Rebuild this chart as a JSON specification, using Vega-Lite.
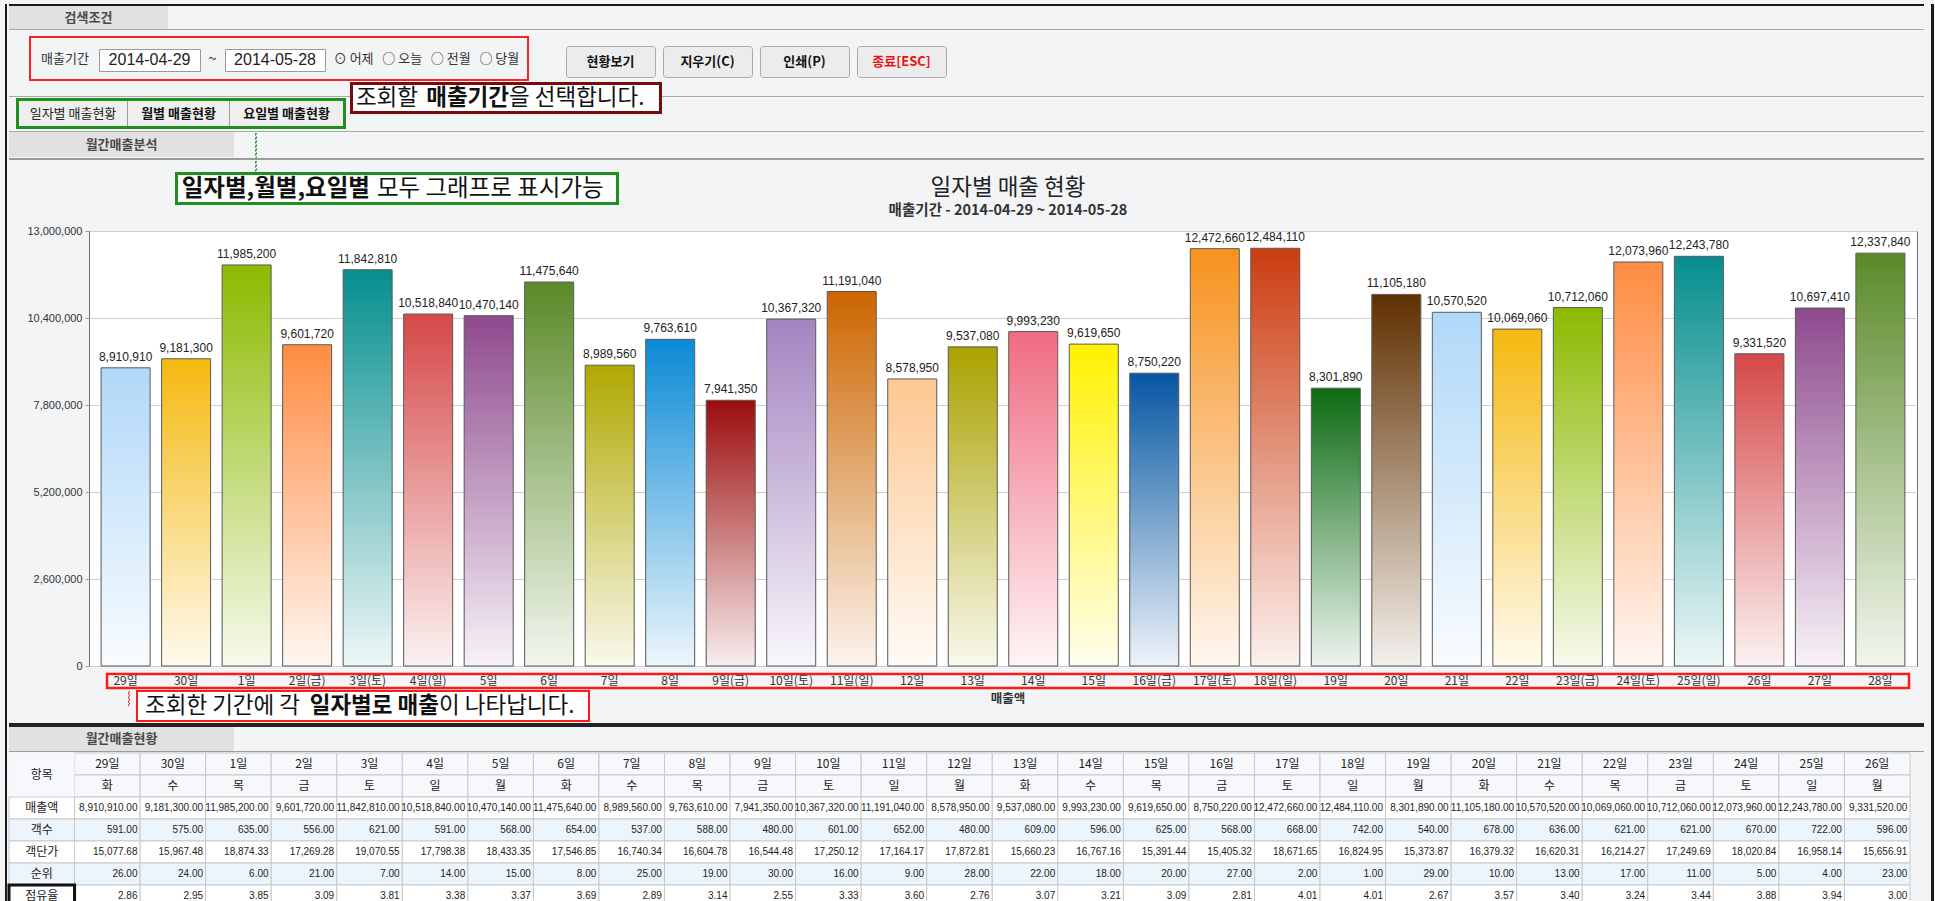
{
"$schema": "https://vega.github.io/schema/vega-lite/v6.json",
"padding": {"left": 5, "top": 4, "right": 5, "bottom": 0},
"background": "#f2f4f6",
"config": {"font": "Noto Sans CJK KR", "view": {"stroke": null}, "text": {"font": "Noto Sans CJK KR"}},
"datasets": {
"days": [
{"day": "29일", "axis": "29일", "wd": "화", "sales": 8910910, "cust": 591, "avg": 15077.68, "rank": 26, "share": 2.86},
{"day": "30일", "axis": "30일", "wd": "수", "sales": 9181300, "cust": 575, "avg": 15967.48, "rank": 24, "share": 2.95},
{"day": "1일", "axis": "1일", "wd": "목", "sales": 11985200, "cust": 635, "avg": 18874.33, "rank": 6, "share": 3.85},
{"day": "2일", "axis": "2일(금)", "wd": "금", "sales": 9601720, "cust": 556, "avg": 17269.28, "rank": 21, "share": 3.09},
{"day": "3일", "axis": "3일(토)", "wd": "토", "sales": 11842810, "cust": 621, "avg": 19070.55, "rank": 7, "share": 3.81},
{"day": "4일", "axis": "4일(일)", "wd": "일", "sales": 10518840, "cust": 591, "avg": 17798.38, "rank": 14, "share": 3.38},
{"day": "5일", "axis": "5일", "wd": "월", "sales": 10470140, "cust": 568, "avg": 18433.35, "rank": 15, "share": 3.37},
{"day": "6일", "axis": "6일", "wd": "화", "sales": 11475640, "cust": 654, "avg": 17546.85, "rank": 8, "share": 3.69},
{"day": "7일", "axis": "7일", "wd": "수", "sales": 8989560, "cust": 537, "avg": 16740.34, "rank": 25, "share": 2.89},
{"day": "8일", "axis": "8일", "wd": "목", "sales": 9763610, "cust": 588, "avg": 16604.78, "rank": 19, "share": 3.14},
{"day": "9일", "axis": "9일(금)", "wd": "금", "sales": 7941350, "cust": 480, "avg": 16544.48, "rank": 30, "share": 2.55},
{"day": "10일", "axis": "10일(토)", "wd": "토", "sales": 10367320, "cust": 601, "avg": 17250.12, "rank": 16, "share": 3.33},
{"day": "11일", "axis": "11일(일)", "wd": "일", "sales": 11191040, "cust": 652, "avg": 17164.17, "rank": 9, "share": 3.60},
{"day": "12일", "axis": "12일", "wd": "월", "sales": 8578950, "cust": 480, "avg": 17872.81, "rank": 28, "share": 2.76},
{"day": "13일", "axis": "13일", "wd": "화", "sales": 9537080, "cust": 609, "avg": 15660.23, "rank": 22, "share": 3.07},
{"day": "14일", "axis": "14일", "wd": "수", "sales": 9993230, "cust": 596, "avg": 16767.16, "rank": 18, "share": 3.21},
{"day": "15일", "axis": "15일", "wd": "목", "sales": 9619650, "cust": 625, "avg": 15391.44, "rank": 20, "share": 3.09},
{"day": "16일", "axis": "16일(금)", "wd": "금", "sales": 8750220, "cust": 568, "avg": 15405.32, "rank": 27, "share": 2.81},
{"day": "17일", "axis": "17일(토)", "wd": "토", "sales": 12472660, "cust": 668, "avg": 18671.65, "rank": 2, "share": 4.01},
{"day": "18일", "axis": "18일(일)", "wd": "일", "sales": 12484110, "cust": 742, "avg": 16824.95, "rank": 1, "share": 4.01},
{"day": "19일", "axis": "19일", "wd": "월", "sales": 8301890, "cust": 540, "avg": 15373.87, "rank": 29, "share": 2.67},
{"day": "20일", "axis": "20일", "wd": "화", "sales": 11105180, "cust": 678, "avg": 16379.32, "rank": 10, "share": 3.57},
{"day": "21일", "axis": "21일", "wd": "수", "sales": 10570520, "cust": 636, "avg": 16620.31, "rank": 13, "share": 3.40},
{"day": "22일", "axis": "22일", "wd": "목", "sales": 10069060, "cust": 621, "avg": 16214.27, "rank": 17, "share": 3.24},
{"day": "23일", "axis": "23일(금)", "wd": "금", "sales": 10712060, "cust": 621, "avg": 17249.69, "rank": 11, "share": 3.44},
{"day": "24일", "axis": "24일(토)", "wd": "토", "sales": 12073960, "cust": 670, "avg": 18020.84, "rank": 5, "share": 3.88},
{"day": "25일", "axis": "25일(일)", "wd": "일", "sales": 12243780, "cust": 722, "avg": 16958.14, "rank": 4, "share": 3.94},
{"day": "26일", "axis": "26일", "wd": "월", "sales": 9331520, "cust": 596, "avg": 15656.91, "rank": 23, "share": 3.00},
{"day": "27일", "axis": "27일", "wd": "화", "sales": 10697410},
{"day": "28일", "axis": "28일", "wd": "수", "sales": 12337840}
],
"items": [
{"key": "day", "name": "항목"}, {"key": "wd", "name": ""}, {"key": "sales", "name": "매출액"}, {"key": "cust", "name": "객수"}, {"key": "avg", "name": "객단가"}, {"key": "rank", "name": "순위"}, {"key": "share", "name": "점유율"}
]
},
"spacing": 0,
"bounds": "full",
"hconcat": [
{"width": 2, "height": 898, "view": {"fill": "#1a1a1a"}, "data": {"values": []}, "mark": "text", "encoding": {"text": {"value": ""}}},
{"spacing": 0,
"bounds": "full",
"vconcat": [
{"width": 1915, "height": 2, "view": {"fill": "#1a1a1a"}, "data": {"values": []}, "mark": "text", "encoding": {"text": {"value": ""}}},
{"hconcat": [
  {"width": 159, "height": 23, "view": {"fill": "#e1e1e1"}, "data": {"values": [{"t": "검색조건"}]}, "mark": {"type": "text", "fontSize": 13, "fontWeight": "bold", "color": "#4a4a4a"}, "encoding": {"text": {"field": "t", "type": "nominal"}}},
  {"width": 1756, "height": 23, "data": {"values": []}, "mark": "text", "encoding": {"text": {"value": ""}}}
], "spacing": 0, "bounds": "flush"},
{"width": 1915, "height": 1, "view": {"fill": "#a9a9a9"}, "data": {"values": []}, "mark": "text", "encoding": {"text": {"value": ""}}},
{"hconcat": [
  {"width": 20, "height": 51, "data": {"values": []}, "mark": "text", "encoding": {"text": {"value": ""}}},
  {"vconcat": [
    {"width": 500, "height": 6, "data": {"values": []}, "mark": "text", "encoding": {"text": {"value": ""}}},
    {"vconcat": [
      {"width": 500, "height": 2, "view": {"fill": "#ff2020"}, "data": {"values": []}, "mark": "text", "encoding": {"text": {"value": ""}}},
      {"hconcat": [
        {"width": 2, "height": 41, "view": {"fill": "#ff2020"}, "data": {"values": []}, "mark": "text", "encoding": {"text": {"value": ""}}},
        {"width": 4, "height": 41, "data": {"values": []}, "mark": "text", "encoding": {"text": {"value": ""}}},
        {"width": 60, "height": 41, "data": {"values": [{"t": "매출기간"}]}, "mark": {"type": "text", "fontSize": 13, "color": "#333333"}, "encoding": {"text": {"field": "t", "type": "nominal"}}},
        {"width": 3, "height": 41, "data": {"values": []}, "mark": "text", "encoding": {"text": {"value": ""}}},
        {"vconcat": [
          {"width": 101, "height": 11, "data": {"values": []}, "mark": "text", "encoding": {"text": {"value": ""}}},
          {"width": 101, "height": 22, "view": {"fill": "#ffffff", "stroke": "#9a9a9a"}, "data": {"values": [{"t": "2014-04-29"}]}, "mark": {"type": "text", "font": "Liberation Sans", "fontSize": 16, "color": "#222222"}, "encoding": {"text": {"field": "t", "type": "nominal"}}},
          {"width": 101, "height": 8, "data": {"values": []}, "mark": "text", "encoding": {"text": {"value": ""}}}
        ], "spacing": 0, "bounds": "flush"},
        {"width": 23, "height": 41, "data": {"values": [{"t": "~"}]}, "mark": {"type": "text", "fontSize": 15, "color": "#333333"}, "encoding": {"text": {"field": "t", "type": "nominal"}}},
        {"vconcat": [
          {"width": 100, "height": 11, "data": {"values": []}, "mark": "text", "encoding": {"text": {"value": ""}}},
          {"width": 100, "height": 22, "view": {"fill": "#ffffff", "stroke": "#9a9a9a"}, "data": {"values": [{"t": "2014-05-28"}]}, "mark": {"type": "text", "font": "Liberation Sans", "fontSize": 16, "color": "#222222"}, "encoding": {"text": {"field": "t", "type": "nominal"}}},
          {"width": 100, "height": 8, "data": {"values": []}, "mark": "text", "encoding": {"text": {"value": ""}}}
        ], "spacing": 0, "bounds": "flush"},
        {"width": 201, "height": 41, "data": {"values": [{"t": "⊙ 어제\u00a0\u00a0 ○ 오늘\u00a0\u00a0 ○ 전월\u00a0\u00a0 ○ 당월"}]}, "mark": {"type": "text", "fontSize": 13, "color": "#333333"}, "encoding": {"text": {"field": "t", "type": "nominal"}}},
        {"width": 2, "height": 41, "view": {"fill": "#ff2020"}, "data": {"values": []}, "mark": "text", "encoding": {"text": {"value": ""}}}
      ], "spacing": 0, "bounds": "full"},
      {"width": 500, "height": 2, "view": {"fill": "#ff2020"}, "data": {"values": []}, "mark": "text", "encoding": {"text": {"value": ""}}}
    ], "spacing": 0, "bounds": "full"}
  ], "spacing": 0, "bounds": "full"},
  {"width": 36, "height": 51, "data": {"values": []}, "mark": "text", "encoding": {"text": {"value": ""}}},
  {"vconcat": [
    {"width": 380, "height": 15, "data": {"values": []}, "mark": "text", "encoding": {"text": {"value": ""}}},
    {"hconcat": [
      {"width": 89, "height": 31, "view": {"fill": "#ececec", "stroke": "#a9a9a9", "cornerRadius": 3}, "data": {"values": [{"t": "현황보기"}]}, "mark": {"type": "text", "fontSize": 13, "fontWeight": "bold", "color": "#111111"}, "encoding": {"text": {"field": "t", "type": "nominal"}}},
      {"width": 89, "height": 31, "view": {"fill": "#ececec", "stroke": "#a9a9a9", "cornerRadius": 3}, "data": {"values": [{"t": "지우기(C)"}]}, "mark": {"type": "text", "fontSize": 13, "fontWeight": "bold", "color": "#111111"}, "encoding": {"text": {"field": "t", "type": "nominal"}}},
      {"width": 89, "height": 31, "view": {"fill": "#ececec", "stroke": "#a9a9a9", "cornerRadius": 3}, "data": {"values": [{"t": "인쇄(P)"}]}, "mark": {"type": "text", "fontSize": 13, "fontWeight": "bold", "color": "#111111"}, "encoding": {"text": {"field": "t", "type": "nominal"}}},
      {"width": 89, "height": 31, "view": {"fill": "#ececec", "stroke": "#a9a9a9", "cornerRadius": 3}, "data": {"values": [{"t": "종료[ESC]"}]}, "mark": {"type": "text", "fontSize": 13, "fontWeight": "bold", "color": "#ee1111"}, "encoding": {"text": {"field": "t", "type": "nominal"}}}
    ], "spacing": 8, "bounds": "flush"},
    {"width": 380, "height": 4, "data": {"values": []}, "mark": "text", "encoding": {"text": {"value": ""}}}
  ], "spacing": 0, "bounds": "full"},
  {"width": 975, "height": 51, "data": {"values": []}, "mark": "text", "encoding": {"text": {"value": ""}}}
], "spacing": 0, "bounds": "full"},
{"hconcat": [
  {"vconcat": [
    {"width": 341, "height": 14, "data": {"values": []}, "mark": "text", "encoding": {"text": {"value": ""}}},
    {"width": 341, "height": 1, "view": {"fill": "#a9a9a9"}, "data": {"values": []}, "mark": "text", "encoding": {"text": {"value": ""}}},
    {"width": 341, "height": 1, "data": {"values": []}, "mark": "text", "encoding": {"text": {"value": ""}}},
    {"hconcat": [
      {"width": 7, "height": 31, "data": {"values": []}, "mark": "text", "encoding": {"text": {"value": ""}}},
      {"vconcat": [
        {"width": 330, "height": 3, "view": {"fill": "#1f8f1f"}, "data": {"values": []}, "mark": "text", "encoding": {"text": {"value": ""}}},
        {"hconcat": [
          {"width": 3, "height": 25, "view": {"fill": "#1f8f1f"}, "data": {"values": []}, "mark": "text", "encoding": {"text": {"value": ""}}},
          {"width": 108, "height": 25, "view": {"fill": "#efefef"}, "data": {"values": [{"t": "일자별 매출현황"}]}, "mark": {"type": "text", "fontSize": 13, "color": "#222222"}, "encoding": {"text": {"field": "t", "type": "nominal"}}},
          {"width": 1, "height": 25, "view": {"fill": "#9d9d9d"}, "data": {"values": []}, "mark": "text", "encoding": {"text": {"value": ""}}},
          {"width": 101, "height": 25, "view": {"fill": "#efefef"}, "data": {"values": [{"t": "월별 매출현황"}]}, "mark": {"type": "text", "fontSize": 13, "fontWeight": "bold", "color": "#111111"}, "encoding": {"text": {"field": "t", "type": "nominal"}}},
          {"width": 1, "height": 25, "view": {"fill": "#9d9d9d"}, "data": {"values": []}, "mark": "text", "encoding": {"text": {"value": ""}}},
          {"width": 113, "height": 25, "view": {"fill": "#efefef"}, "data": {"values": [{"t": "요일별 매출현황"}]}, "mark": {"type": "text", "fontSize": 13, "fontWeight": "bold", "color": "#111111"}, "encoding": {"text": {"field": "t", "type": "nominal"}}},
          {"width": 3, "height": 25, "view": {"fill": "#1f8f1f"}, "data": {"values": []}, "mark": "text", "encoding": {"text": {"value": ""}}}
        ], "spacing": 0, "bounds": "flush"},
        {"width": 330, "height": 3, "view": {"fill": "#1f8f1f"}, "data": {"values": []}, "mark": "text", "encoding": {"text": {"value": ""}}}
      ], "spacing": 0, "bounds": "full"}
    ], "spacing": 0, "bounds": "full"},
    {"width": 341, "height": 2, "data": {"values": []}, "mark": "text", "encoding": {"text": {"value": ""}}}
  ], "spacing": 0, "bounds": "full"},
  {"vconcat": [
    {"vconcat": [
      {"width": 312, "height": 3, "view": {"fill": "#7a0b0b"}, "data": {"values": []}, "mark": "text", "encoding": {"text": {"value": ""}}},
      {"hconcat": [
        {"width": 3, "height": 26, "view": {"fill": "#7a0b0b"}, "data": {"values": []}, "mark": "text", "encoding": {"text": {"value": ""}}},
        {"width": 6, "height": 26, "view": {"fill": "#ffffff"}, "data": {"values": []}, "mark": "text", "encoding": {"text": {"value": ""}}},
        {"width": 300, "height": 26, "view": {"fill": "#ffffff"}, "data": {"values": [{"a": "조회할", "b": "매출기간", "c": "을 선택합니다."}]},
         "layer": [
           {"mark": {"type": "text", "align": "right", "dx": -91, "fontSize": 22.5, "color": "#111111"}, "encoding": {"text": {"field": "a", "type": "nominal"}}},
           {"mark": {"type": "text", "align": "right", "fontSize": 22.5, "fontWeight": "bold", "color": "#111111"}, "encoding": {"text": {"field": "b", "type": "nominal"}}},
           {"mark": {"type": "text", "align": "left", "fontSize": 22.5, "color": "#111111"}, "encoding": {"text": {"field": "c", "type": "nominal"}}}
         ]},
        {"width": 3, "height": 26, "view": {"fill": "#7a0b0b"}, "data": {"values": []}, "mark": "text", "encoding": {"text": {"value": ""}}}
      ], "spacing": 0, "bounds": "flush"},
      {"width": 312, "height": 3, "view": {"fill": "#7a0b0b"}, "data": {"values": []}, "mark": "text", "encoding": {"text": {"value": ""}}}
    ], "spacing": 0, "bounds": "full"},
    {"width": 312, "height": 17, "data": {"values": []}, "mark": "text", "encoding": {"text": {"value": ""}}}
  ], "spacing": 0, "bounds": "full"},
  {"vconcat": [
    {"width": 1262, "height": 14, "data": {"values": []}, "mark": "text", "encoding": {"text": {"value": ""}}},
    {"width": 1262, "height": 1, "view": {"fill": "#a9a9a9"}, "data": {"values": []}, "mark": "text", "encoding": {"text": {"value": ""}}},
    {"width": 1262, "height": 34, "data": {"values": []}, "mark": "text", "encoding": {"text": {"value": ""}}}
  ], "spacing": 0, "bounds": "flush"}
], "spacing": 0, "bounds": "full"},
{"width": 1915, "height": 1, "view": {"fill": "#a9a9a9"}, "data": {"values": []}, "mark": "text", "encoding": {"text": {"value": ""}}},
{"hconcat": [
  {"width": 225, "height": 25, "view": {"fill": "#e1e1e1"}, "data": {"values": [{"t": "월간매출분석"}]}, "mark": {"type": "text", "fontSize": 13, "fontWeight": "bold", "color": "#4a4a4a"}, "encoding": {"text": {"field": "t", "type": "nominal"}}},
  {"width": 20, "height": 25, "data": {"values": []}, "mark": "text", "encoding": {"text": {"value": ""}}},
  {"vconcat": [
    {"width": 1, "height": 0.5, "data": {"values": []}, "mark": "text", "encoding": {"text": {"value": ""}}},
    {"width": 1, "height": 24, "view": {"stroke": "#1f8f1f", "strokeDash": [2, 2], "strokeWidth": 1}, "data": {"values": []}, "mark": "text", "encoding": {"text": {"value": ""}}},
    {"width": 1, "height": 0.5, "data": {"values": []}, "mark": "text", "encoding": {"text": {"value": ""}}}
  ], "spacing": 0, "bounds": "flush"},
  {"width": 1669, "height": 25, "data": {"values": []}, "mark": "text", "encoding": {"text": {"value": ""}}}
], "spacing": 0, "bounds": "full"},
{"width": 1915, "height": 2, "view": {"fill": "#9c9c9c"}, "data": {"values": []}, "mark": "text", "encoding": {"text": {"value": ""}}},
{"vconcat": [
  {"hconcat": [
    {"width": 166, "height": 63, "data": {"values": []}, "mark": "text", "encoding": {"text": {"value": ""}}},
    {"vconcat": [
      {"hconcat": [
        {"width": 79, "height": 11, "data": {"values": []}, "mark": "text", "encoding": {"text": {"value": ""}}},
        {"vconcat": [
          {"width": 1, "height": 0.5, "data": {"values": []}, "mark": "text", "encoding": {"text": {"value": ""}}},
          {"width": 1, "height": 10, "view": {"stroke": "#1f8f1f", "strokeDash": [2, 2], "strokeWidth": 1}, "data": {"values": []}, "mark": "text", "encoding": {"text": {"value": ""}}},
          {"width": 1, "height": 0.5, "data": {"values": []}, "mark": "text", "encoding": {"text": {"value": ""}}}
        ], "spacing": 0, "bounds": "flush"},
        {"width": 364, "height": 11, "data": {"values": []}, "mark": "text", "encoding": {"text": {"value": ""}}}
      ], "spacing": 0, "bounds": "full"},
      {"vconcat": [
        {"width": 444, "height": 3, "view": {"fill": "#1f8f1f"}, "data": {"values": []}, "mark": "text", "encoding": {"text": {"value": ""}}},
        {"hconcat": [
          {"width": 3, "height": 27, "view": {"fill": "#1f8f1f"}, "data": {"values": []}, "mark": "text", "encoding": {"text": {"value": ""}}},
          {"width": 438, "height": 27, "view": {"fill": "#ffffff"}, "data": {"values": [{"a": "일자별,월별,요일별", "c": "모두 그래프로 표시가능"}]},
           "layer": [
             {"mark": {"type": "text", "align": "right", "dx": -27, "fontSize": 23.5, "fontWeight": "bold", "color": "#111111"}, "encoding": {"text": {"field": "a", "type": "nominal"}}},
             {"mark": {"type": "text", "align": "left", "dx": -20, "fontSize": 23.5, "color": "#111111"}, "encoding": {"text": {"field": "c", "type": "nominal"}}}
           ]},
          {"width": 3, "height": 27, "view": {"fill": "#1f8f1f"}, "data": {"values": []}, "mark": "text", "encoding": {"text": {"value": ""}}}
        ], "spacing": 0, "bounds": "flush"},
        {"width": 444, "height": 3, "view": {"fill": "#1f8f1f"}, "data": {"values": []}, "mark": "text", "encoding": {"text": {"value": ""}}}
      ], "spacing": 0, "bounds": "full"},
      {"width": 444, "height": 19, "data": {"values": []}, "mark": "text", "encoding": {"text": {"value": ""}}}
    ], "spacing": 0, "bounds": "full"},
    {"width": 187, "height": 63, "data": {"values": []}, "mark": "text", "encoding": {"text": {"value": ""}}},
    {"vconcat": [
      {"width": 400, "height": 15, "data": {"values": []}, "mark": "text", "encoding": {"text": {"value": ""}}},
      {"width": 400, "height": 26, "data": {"values": [{"t": "일자별 매출 현황"}]}, "mark": {"type": "text", "fontSize": 22.5, "color": "#222222"}, "encoding": {"text": {"field": "t", "type": "nominal"}}},
      {"width": 400, "height": 1.5, "data": {"values": []}, "mark": "text", "encoding": {"text": {"value": ""}}},
      {"width": 400, "height": 16, "data": {"values": [{"t": "매출기간 - 2014-04-29 ~ 2014-05-28"}]}, "mark": {"type": "text", "fontSize": 14.5, "fontWeight": "bold", "color": "#333333"}, "encoding": {"text": {"field": "t", "type": "nominal"}}},
      {"width": 400, "height": 4.5, "data": {"values": []}, "mark": "text", "encoding": {"text": {"value": ""}}}
    ], "spacing": 0, "bounds": "flush"},
    {"width": 718, "height": 63, "data": {"values": []}, "mark": "text", "encoding": {"text": {"value": ""}}}
  ], "spacing": 0, "bounds": "full"},
  {"hconcat": [
    {"width": 80, "height": 435, "data": {"values": []}, "mark": "text", "encoding": {"text": {"value": ""}}},
    {
      "width": 1828, "height": 435,
      "view": {"fill": "#ffffff", "stroke": "#6e6e6e", "strokeWidth": 1},
      "data": {"name": "days"},
      "encoding": {
        "x": {"field": "axis", "type": "nominal", "sort": null, "scale": {"paddingInner": 0.19, "paddingOuter": 0.2}, "axis": null},
        "y": {"field": "sales", "type": "quantitative", "scale": {"domain": [0, 13000000], "nice": false},
              "axis": {"values": [0, 2600000, 5200000, 7800000, 10400000, 13000000], "labelExpr": "format(datum.value, ',')", "title": null, "domain": false, "labelFont": "Liberation Sans", "labelFontSize": 11, "labelColor": "#333333", "labelPadding": 3, "gridColor": "#cfcfcf", "tickColor": "#999999", "tickSize": 4}}
      },
      "layer": [
        {"mark": {"type": "bar"}, "encoding": {"color": {"field": "axis", "type": "nominal", "sort": null, "legend": null,
          "scale": {"range": ["#b0d8f8", "#f5b90f", "#8cba00", "#ff8c42", "#068e8e", "#d64848", "#8e4a8e", "#5a8a28", "#b0a800", "#0a8ad6", "#9c0c0c", "#a384c0", "#cc6600", "#fdc892", "#aaa200", "#f06c82", "#fff200", "#0656a3", "#f7921e", "#cc3c10", "#0b6b12", "#603000", "#b0d8f8", "#f5b90f", "#8cba00", "#ff8c42", "#068e8e", "#d64848", "#8e4a8e", "#5a8a28"]}}}},
        {"mark": {"type": "bar", "fill": {"gradient": "linear", "x1": 0, "y1": 0, "x2": 0, "y2": 1, "stops": [{"offset": 0, "color": "rgba(255,255,255,0)"}, {"offset": 1, "color": "rgba(255,255,255,0.93)"}]}, "stroke": "#5a5a5a", "strokeWidth": 1}},
        {"mark": {"type": "text", "baseline": "bottom", "dy": -4, "font": "Liberation Sans", "fontSize": 12, "color": "#222222"}, "encoding": {"text": {"field": "sales", "type": "quantitative", "format": ","}}}
      ]
    },
    {"width": 7, "height": 435, "data": {"values": []}, "mark": "text", "encoding": {"text": {"value": ""}}}
  ], "spacing": 0, "bounds": "flush"},
  {"vconcat": [
    {"hconcat": [
      {"width": 98, "height": 14, "data": {"values": []}, "mark": "text", "encoding": {"text": {"value": ""}}},
      {"width": 1802, "height": 14, "view": {"stroke": "#ff1a1a", "strokeWidth": 2.5}, "data": {"name": "days"},
       "mark": {"type": "text", "fontSize": 12, "color": "#333333"},
       "encoding": {"x": {"field": "axis", "type": "nominal", "sort": null, "scale": {"type": "point", "padding": 0.39, "align": 0.394}, "axis": null}, "text": {"field": "axis", "type": "nominal"}}}
    ], "spacing": 0, "bounds": "flush"},
    {"hconcat": [
      {"width": 118, "height": 32, "data": {"values": []}, "mark": "text", "encoding": {"text": {"value": ""}}},
      {"vconcat": [
        {"width": 1, "height": 0.5, "data": {"values": []}, "mark": "text", "encoding": {"text": {"value": ""}}},
        {"width": 1, "height": 14.5, "view": {"stroke": "#ff1a1a", "strokeDash": [2, 2], "strokeWidth": 1}, "data": {"values": []}, "mark": "text", "encoding": {"text": {"value": ""}}},
        {"width": 1, "height": 17, "data": {"values": []}, "mark": "text", "encoding": {"text": {"value": ""}}}
      ], "spacing": 0, "bounds": "flush"},
      {"width": 6, "height": 32, "data": {"values": []}, "mark": "text", "encoding": {"text": {"value": ""}}},
      {"vconcat": [
        {"width": 454, "height": 2, "view": {"fill": "#ff1a1a"}, "data": {"values": []}, "mark": "text", "encoding": {"text": {"value": ""}}},
        {"hconcat": [
          {"width": 2, "height": 28, "view": {"fill": "#ff1a1a"}, "data": {"values": []}, "mark": "text", "encoding": {"text": {"value": ""}}},
          {"width": 152, "height": 28, "view": {"fill": "#ffffff"}, "data": {"values": []}, "mark": "text", "encoding": {"text": {"value": ""}}},
          {"width": 298, "height": 28, "view": {"fill": "#ffffff"}, "data": {"values": [{"a": "조회한 기간에 각", "b": "일자별로 매출", "c": "이 나타납니다."}]},
           "layer": [
             {"mark": {"type": "text", "align": "right", "dx": -139, "fontSize": 22.5, "color": "#111111"}, "encoding": {"text": {"field": "a", "type": "nominal"}}},
             {"mark": {"type": "text", "align": "right", "fontSize": 22.5, "fontWeight": "bold", "color": "#111111"}, "encoding": {"text": {"field": "b", "type": "nominal"}}},
             {"mark": {"type": "text", "align": "left", "fontSize": 22.5, "color": "#111111"}, "encoding": {"text": {"field": "c", "type": "nominal"}}}
           ]},
          {"width": 2, "height": 28, "view": {"fill": "#ff1a1a"}, "data": {"values": []}, "mark": "text", "encoding": {"text": {"value": ""}}}
        ], "spacing": 0, "bounds": "flush"},
        {"width": 454, "height": 2, "view": {"fill": "#ff1a1a"}, "data": {"values": []}, "mark": "text", "encoding": {"text": {"value": ""}}}
      ], "spacing": 0, "bounds": "full"},
      {"width": 368, "height": 32, "data": {"values": []}, "mark": "text", "encoding": {"text": {"value": ""}}},
      {"width": 100, "height": 18, "data": {"values": [{"t": "매출액"}]}, "mark": {"type": "text", "fontSize": 12.5, "fontWeight": "bold", "color": "#333333"}, "encoding": {"text": {"field": "t", "type": "nominal"}}}
    ], "spacing": 0, "bounds": "full"}
  ], "spacing": 0, "bounds": "full"}
], "spacing": 0, "bounds": "full"},
{"width": 1915, "height": 4, "view": {"fill": "#222222"}, "data": {"values": []}, "mark": "text", "encoding": {"text": {"value": ""}}},
{"hconcat": [
  {"width": 225, "height": 24, "view": {"fill": "#e1e1e1"}, "data": {"values": [{"t": "월간매출현황"}]}, "mark": {"type": "text", "fontSize": 13, "fontWeight": "bold", "color": "#4a4a4a"}, "encoding": {"text": {"field": "t", "type": "nominal"}}},
  {"width": 1690, "height": 24, "data": {"values": []}, "mark": "text", "encoding": {"text": {"value": ""}}}
], "spacing": 0, "bounds": "flush"},
{"width": 1915, "height": 1, "view": {"fill": "#9c9c9c"}, "data": {"values": []}, "mark": "text", "encoding": {"text": {"value": ""}}},
{
  "width": 1901, "height": 154,
  "layer": [
    {"data": {"name": "days"},
     "transform": [{"filter": {"not": {"field": "day", "oneOf": ["27일", "28일"]}}}, {"fold": ["day", "wd", "sales", "cust", "avg", "rank", "share"]}],
     "mark": {"type": "rect", "stroke": "#c8c8c8", "strokeWidth": 1},
     "encoding": {
       "x": {"field": "day", "type": "nominal", "axis": null, "scale": {"domain": ["항목", "29일", "30일", "1일", "2일", "3일", "4일", "5일", "6일", "7일", "8일", "9일", "10일", "11일", "12일", "13일", "14일", "15일", "16일", "17일", "18일", "19일", "20일", "21일", "22일", "23일", "24일", "25일", "26일"], "paddingInner": 0, "paddingOuter": 0}},
       "y": {"field": "key", "type": "nominal", "axis": null, "scale": {"domain": ["day", "wd", "sales", "cust", "avg", "rank", "share"], "paddingInner": 0, "paddingOuter": 0}},
       "fill": {"field": "key", "type": "nominal", "legend": null, "scale": {"domain": ["day", "wd", "sales", "cust", "avg", "rank", "share"], "range": ["#f6f8fb", "#f6f8fb", "#ffffff", "#edf5fc", "#ffffff", "#edf5fc", "#ffffff"]}}
     }},
    {"data": {"name": "days"},
     "transform": [{"filter": {"not": {"field": "day", "oneOf": ["27일", "28일"]}}}, {"fold": ["day", "wd"]}],
     "mark": {"type": "text", "fontSize": 12, "color": "#222222"},
     "encoding": {
       "x": {"field": "day", "type": "nominal"},
       "y": {"field": "key", "type": "nominal"},
       "text": {"field": "value", "type": "nominal"}
     }},
    {"data": {"name": "days"},
     "transform": [{"filter": {"not": {"field": "day", "oneOf": ["27일", "28일"]}}}, {"fold": ["sales", "cust", "avg", "rank", "share"]}],
     "mark": {"type": "text", "align": "right", "font": "Liberation Sans", "fontSize": 10, "color": "#222222"},
     "encoding": {
       "x": {"field": "day", "type": "nominal", "bandPosition": 0.96},
       "y": {"field": "key", "type": "nominal"},
       "text": {"field": "value", "type": "quantitative", "format": ",.2f"}
     }},
    {"data": {"name": "items"},
     "mark": {"type": "rect"},
     "encoding": {
       "x": {"datum": "항목", "type": "nominal"},
       "y": {"field": "key", "type": "nominal"},
       "fill": {"field": "key", "type": "nominal", "legend": null},
       "stroke": {"condition": {"test": "datum.key === 'share'", "value": "#111111"}, "value": "#c8c8c8"},
       "strokeWidth": {"condition": {"test": "datum.key === 'share'", "value": 3}, "value": 1},
       "strokeOpacity": {"condition": {"test": "datum.key === 'day' || datum.key === 'wd'", "value": 0}, "value": 1}
     }},
    {"data": {"name": "items"},
     "transform": [{"filter": {"not": {"field": "key", "oneOf": ["day", "wd"]}}}],
     "mark": {"type": "text", "fontSize": 12, "color": "#222222"},
     "encoding": {
       "x": {"datum": "항목", "type": "nominal"},
       "y": {"field": "key", "type": "nominal"},
       "text": {"field": "name", "type": "nominal"}
     }},
    {"data": {"name": "items"},
     "transform": [{"filter": {"field": "key", "equal": "day"}}],
     "mark": {"type": "text", "fontSize": 12, "color": "#222222"},
     "encoding": {
       "x": {"datum": "항목", "type": "nominal"},
       "y": {"field": "key", "type": "nominal", "bandPosition": 1},
       "text": {"field": "name", "type": "nominal"}
     }}
  ]
}
]},
{"width": 5, "height": 898, "data": {"values": []}, "mark": "text", "encoding": {"text": {"value": ""}}},
{"width": 3, "height": 898, "view": {"fill": "#1a1a1a"}, "data": {"values": []}, "mark": "text", "encoding": {"text": {"value": ""}}}
]
}
